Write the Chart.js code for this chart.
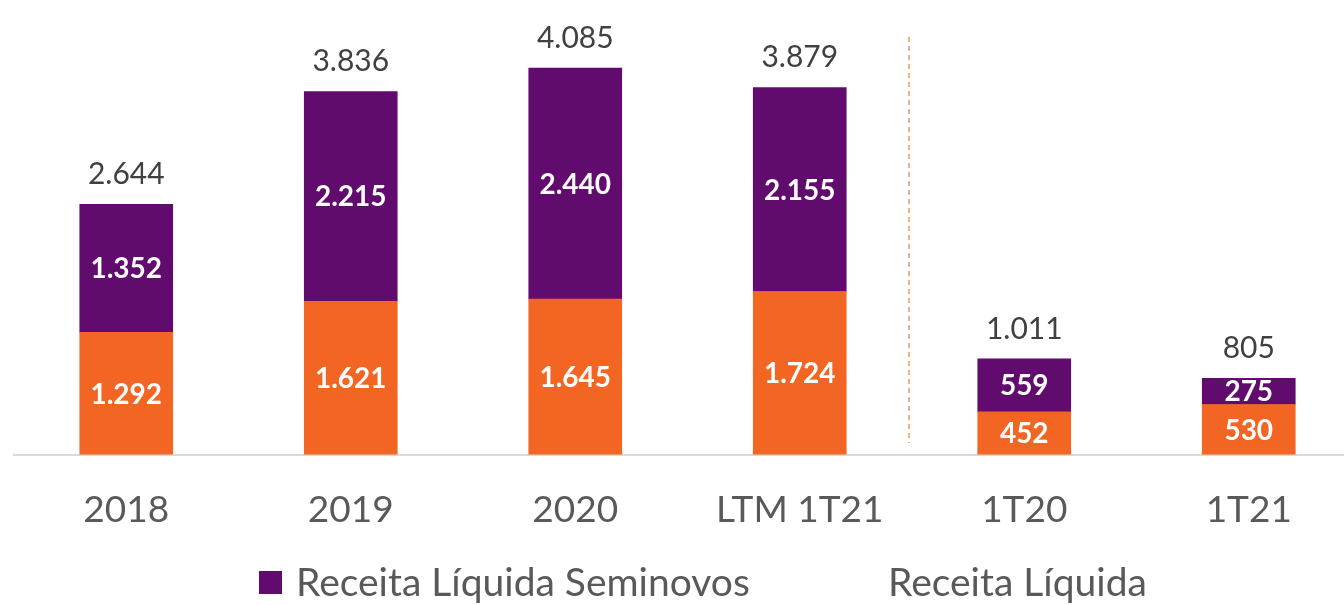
<!DOCTYPE html>
<html lang="pt-BR">
<head>
<meta charset="utf-8">
<title>Receita Líquida</title>
<script src="https://cdn.jsdelivr.net/npm/chart.js@4.4.1/dist/chart.umd.min.js"></script>
<style>
  html, body { margin: 0; padding: 0; background: #fff; overflow: hidden; }
  #wrap { width: 1362px; height: 605px; }
</style>
</head>
<body>
<div id="wrap"><canvas id="chart" width="1362" height="605"></canvas></div>
<script>
// data
const categories = ['2018', '2019', '2020', 'LTM 1T21', '1T20', '1T21'];
const receitaLiquida = [1292, 1621, 1645, 1724, 452, 530];
const receitaSeminovos = [1352, 2215, 2440, 2155, 559, 275];
const totals = [2644, 3836, 4085, 3879, 1011, 805];

const ORANGE = '#f26522';
const PURPLE = '#620b6f';
const FONT = 'Lato';

// 1292 -> "1.292"
const fmt = v => String(v).replace(/\B(?=(\d{3})+(?!\d))/g, '.');

// white value inside each segment + total above each stack
const valueLabels = {
  id: 'valueLabels',
  afterDatasetsDraw(chart){
    const ctx = chart.ctx;
    ctx.save();
    ctx.textAlign = 'center';
    ctx.textBaseline = 'middle';
    ctx.font = 'bold 28px ' + FONT;
    ctx.fillStyle = '#ffffff';
    chart.data.datasets.forEach((ds, di)=>{
      chart.getDatasetMeta(di).data.forEach((bar, i)=>{
        const mid = (bar.y + bar.base) / 2;
        ctx.fillText(fmt(ds.data[i]), bar.x, mid + 1);
      });
    });
    const top = chart.getDatasetMeta(chart.data.datasets.length - 1).data;
    ctx.font = '30px ' + FONT;
    ctx.fillStyle = '#404040';
    top.forEach((bar, i)=>{
      ctx.fillText(fmt(totals[i]), bar.x, bar.y - 30);
    });
    ctx.restore();
  }
};

// dashed separator between annual and quarterly figures
const divider = {
  id: 'divider',
  afterDraw(chart){
    const x = chart.scales.x;
    const px = (x.getPixelForValue(3) + x.getPixelForValue(4)) / 2 - 3;
    const ctx = chart.ctx;
    ctx.save();
    ctx.strokeStyle = '#f4b183';
    ctx.lineWidth = 2;
    ctx.setLineDash([5, 4]);
    ctx.beginPath();
    ctx.moveTo(px, 37);
    ctx.lineTo(px, 443);
    ctx.stroke();
    ctx.restore();
  }
};

// legend as in the slide: only the first item shows a marker
const slideLegend = {
  id: 'slideLegend',
  afterDraw(chart){
    const ctx = chart.ctx;
    const sem = chart.data.datasets[1];
    const rec = chart.data.datasets[0];
    ctx.save();
    ctx.fillStyle = sem.backgroundColor;
    ctx.fillRect(259, 571, 23, 23);
    ctx.font = '39px ' + FONT;
    ctx.fillStyle = '#595959';
    ctx.textBaseline = 'middle';
    ctx.textAlign = 'left';
    ctx.fillText(sem.label, 296, 583);
    ctx.fillText(rec.label, 888, 583);
    ctx.restore();
  }
};

new Chart(document.getElementById('chart'), {
  type: 'bar',
  data: {
    labels: categories,
    datasets: [
      { label: 'Receita Líquida', data: receitaLiquida, backgroundColor: ORANGE, stack: 's' },
      { label: 'Receita Líquida Seminovos', data: receitaSeminovos, backgroundColor: PURPLE, stack: 's' }
    ]
  },
  options: {
    responsive: false,
    animation: false,
    layout: { padding: { left: 14, right: 1, top: 0, bottom: 40 } },
    datasets: { bar: { barThickness: 93 } },
    plugins: {
      legend: { display: false },
      tooltip: { enabled: false }
    },
    scales: {
      x: {
        stacked: true,
        grid: { display: false, drawTicks: false },
        border: { display: true, color: '#d9d9d9', width: 2 },
        ticks: { color: '#595959', font: { family: FONT, size: 37 }, padding: 33 }
      },
      y: {
        stacked: true,
        display: false,
        min: 0,
        max: 4805
      }
    }
  },
  plugins: [valueLabels, divider, slideLegend]
});
</script>
</body>
</html>
